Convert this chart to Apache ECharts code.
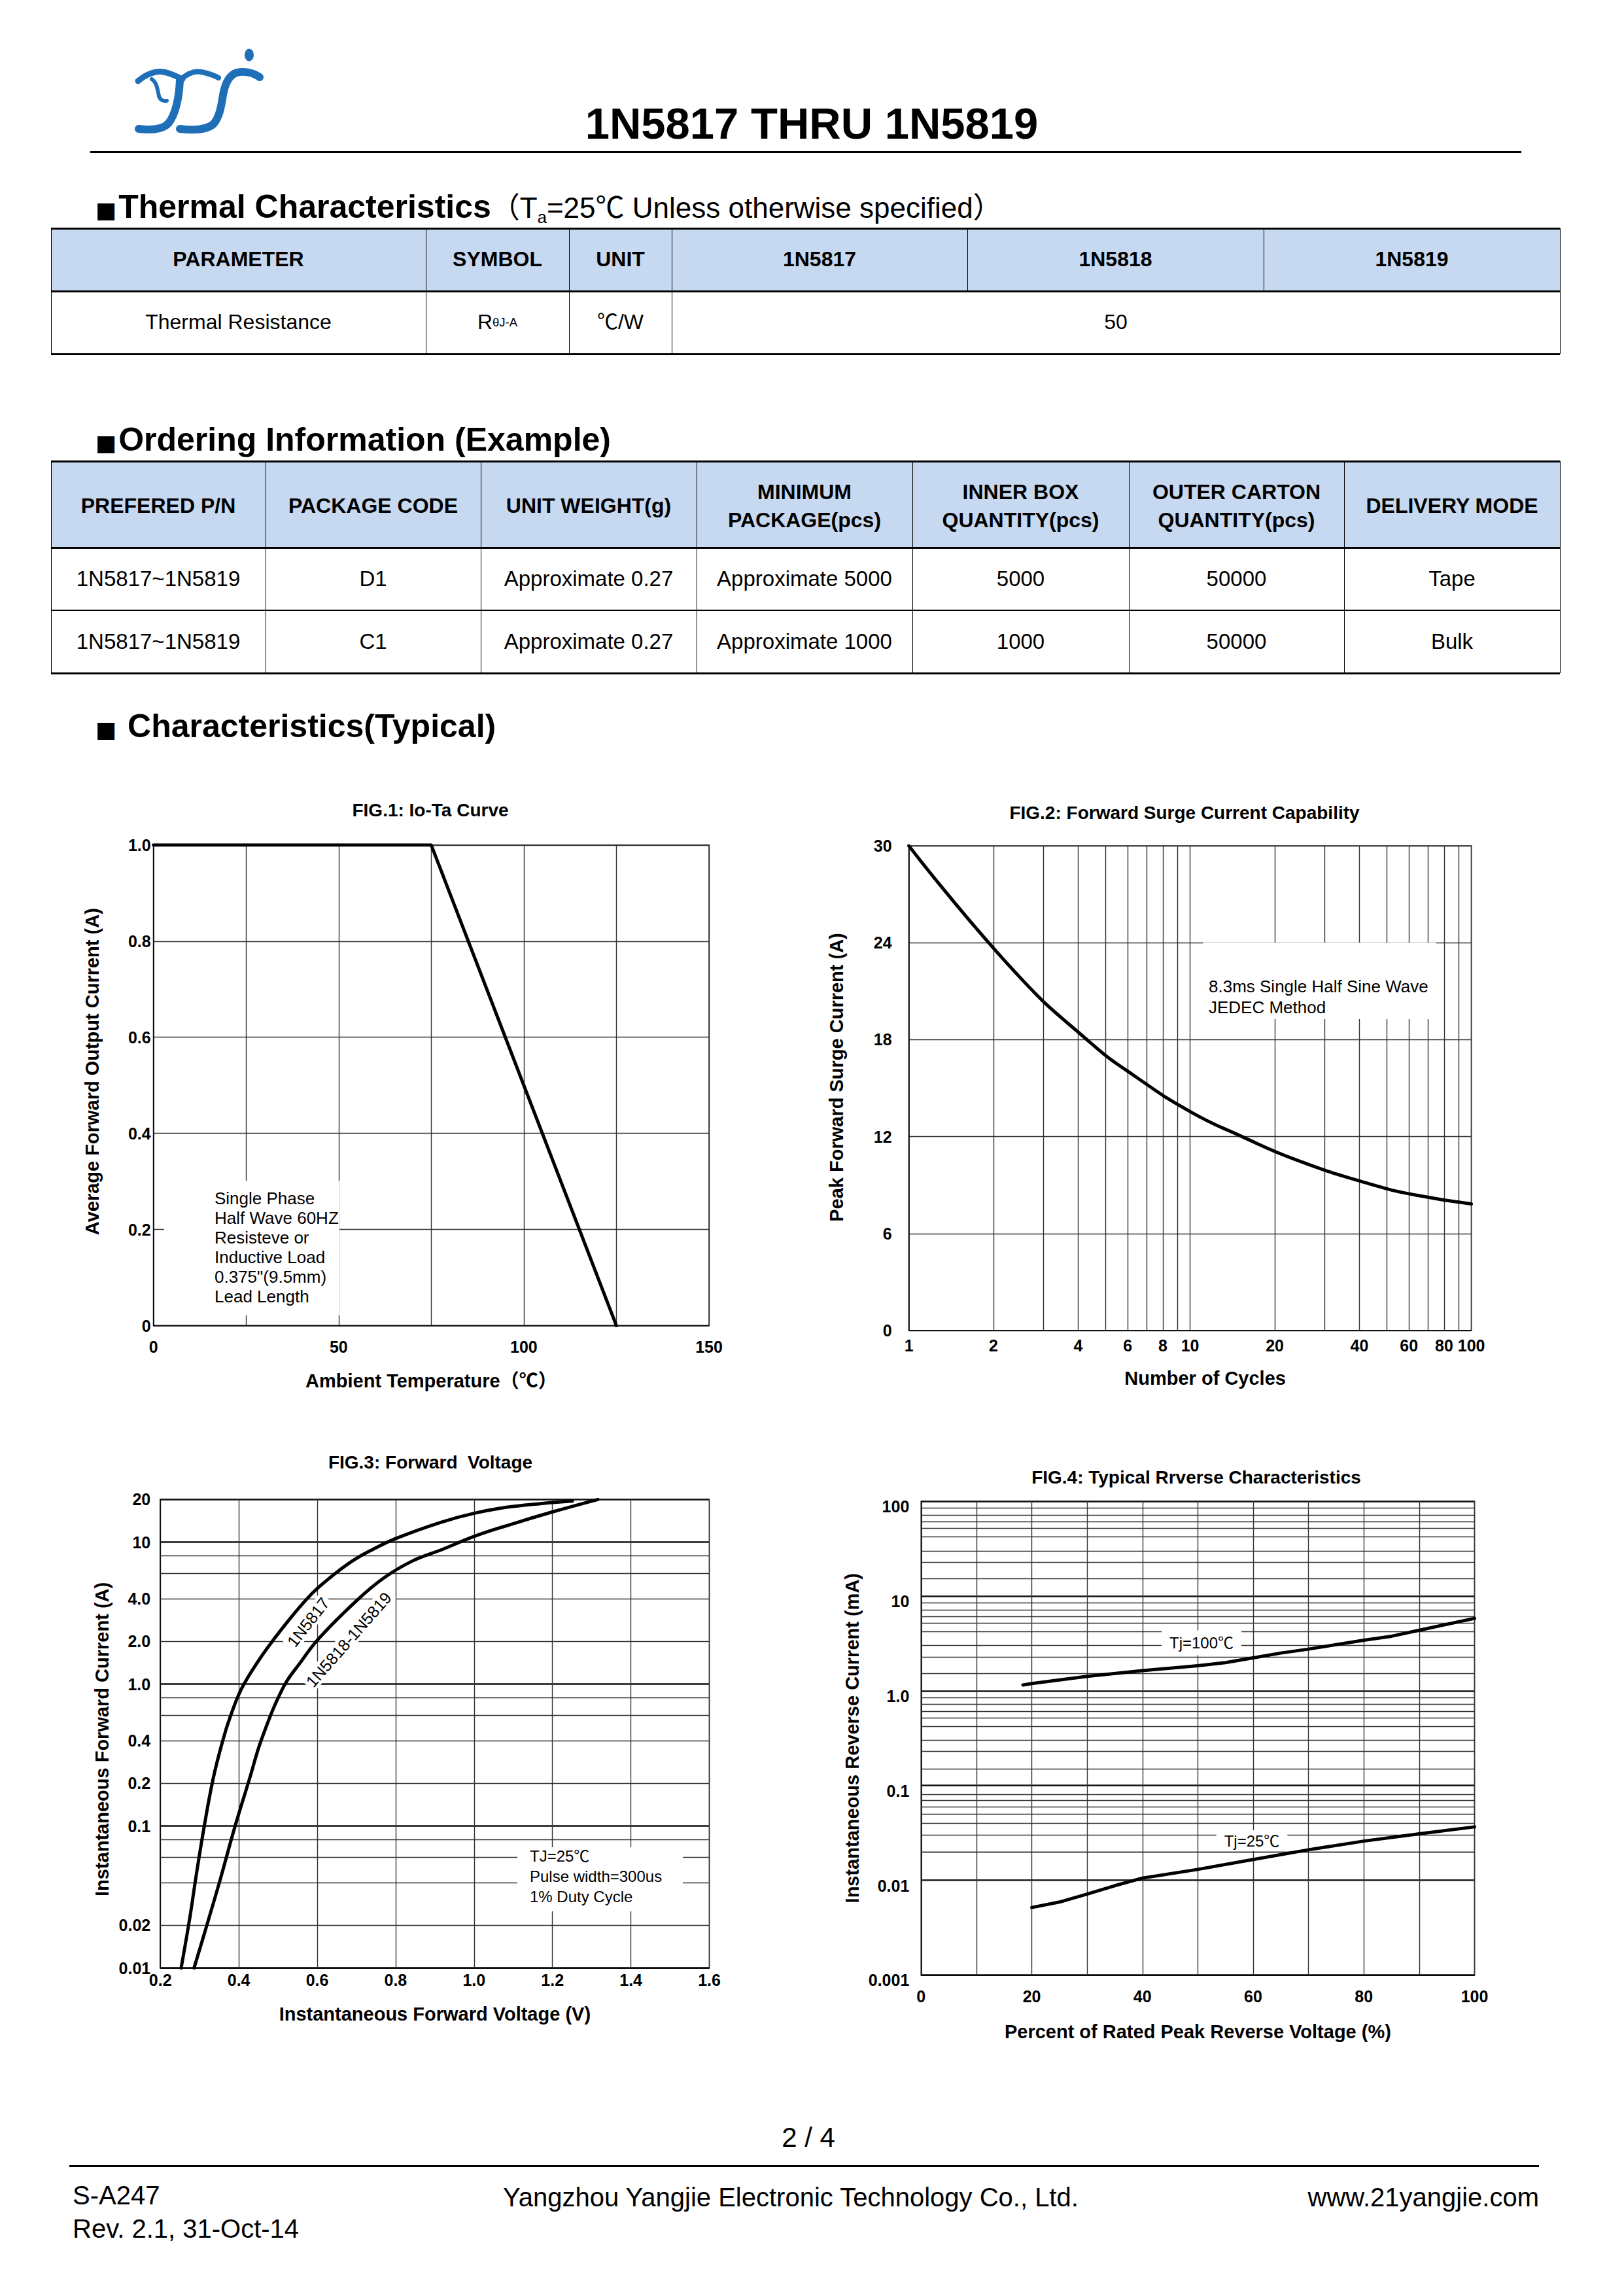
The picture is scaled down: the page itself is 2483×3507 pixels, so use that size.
<!DOCTYPE html>
<html>
<head>
<meta charset="utf-8">
<title>1N5817 THRU 1N5819</title>
<script src="https://cdn.jsdelivr.net/npm/echarts@6.0.0/dist/echarts.min.js"></script>
<style>
html,body{margin:0;padding:0;background:#fff;}
#page{position:relative;width:2483px;height:3507px;overflow:hidden;background:#fff;color:#000;font-family:"Liberation Sans",Arial,"Noto Sans CJK SC",sans-serif;}
#chart{position:absolute;left:0;top:0;width:2483px;height:3507px;}
.t{position:absolute;white-space:nowrap;}
.cell{position:absolute;display:flex;align-items:center;justify-content:center;text-align:center;line-height:1.35;white-space:nowrap;}
.ln{position:absolute;background:#000;}
.bg{position:absolute;}
sub{font-size:0.58em;vertical-align:-0.32em;line-height:0;}
.sq{font-family:"DejaVu Sans",sans-serif;font-size:34px;margin-right:3px;}
</style>
</head>
<body>
<div id="page">
<div id="chart"></div>
<svg id="logo" style="position:absolute;left:0;top:0" width="500" height="240" viewBox="0 0 500 240">
 <g fill="none" stroke="#1E6FB8" stroke-linecap="round">
  <path d="M211,124 C225,112 240,108 250,110 C262,112 270,117 279,121" stroke-width="9"/>
  <path d="M232,121 C240,126 241,138 243,147 C245,153 250,155 255,154" stroke-width="6"/>
  <path d="M275,122 C274,150 268,175 258,188 C250,197 236,200 212,197" stroke-width="12"/>
  <path d="M277,121 C287,112 298,108 308,110 C318,112 327,115 334,119" stroke-width="8"/>
  <path d="M397,118 C388,112 375,108 362,111 C350,115 344,128 341,145 C338,165 335,180 326,190 C316,198 300,200 275,197" stroke-width="12"/>
 </g>
 <ellipse cx="381" cy="84" rx="7" ry="9.5" fill="#1E6FB8"/>
</svg>
</div>
<script>
const FONT = '"Liberation Sans", Arial, "Noto Sans CJK SC", sans-serif';

// ---------------- DATA ----------------
// FIG.1 Io-Ta curve
const fig1Temperature = [0, 75, 125];
const fig1Current = [1.0, 1.0, 0];
const fig1XTickValues = [0, 50, 100, 150];
const fig1XTickText = ['0', '50', '100', '150'];
const fig1YTickValues = [0, 0.2, 0.4, 0.6, 0.8, 1.0];
const fig1YTickText = ['0', '0.2', '0.4', '0.6', '0.8', '1.0'];

// FIG.2 Forward surge current
const fig2Cycles = [1, 2.38, 4.43, 6.35, 10, 15.3, 23.9, 44.3, 63.5, 100];
const fig2Surge = [30, 22.2, 17.8, 15.75, 13.55, 12.0, 10.55, 9.03, 8.38, 7.83];
const fig2GridCycles = [2, 3, 4, 5, 6, 7, 8, 9, 20, 30, 40, 50, 60, 70, 80, 90];
const fig2TickValues = [1, 2, 4, 6, 8, 10, 20, 40, 60, 80, 100];
const fig2TickText = ['1', '2', '4', '6', '8', '10', '20', '40', '60', '80', '100'];
const fig2YTickValues = [0, 6, 12, 18, 24, 30];
const fig2YTickText = ['0', '6', '12', '18', '24', '30'];

// FIG.3 Forward voltage
const fig3Voltage1817 = [0.253, 0.275, 0.290, 0.311, 0.335, 0.360, 0.378, 0.407, 0.453, 0.490, 0.535, 0.571, 0.601, 0.644, 0.689, 0.734, 0.800, 0.915, 1.001, 1.096, 1.251];
const fig3Current1817 = [0.01, 0.0225, 0.0423, 0.0964, 0.218, 0.408, 0.586, 0.927, 1.50, 2.08, 2.99, 3.91, 4.74, 5.96, 7.35, 8.67, 10.6, 13.8, 16.0, 17.8, 19.5];
const fig3Voltage1818 = [0.286, 0.324, 0.353, 0.389, 0.428, 0.458, 0.514, 0.558, 0.603, 0.702, 0.770, 0.842, 0.919, 1.001, 1.096, 1.202, 1.316];
const fig3Current1818 = [0.01, 0.0225, 0.0423, 0.0964, 0.218, 0.408, 0.955, 1.43, 2.08, 3.91, 5.6, 7.35, 8.89, 11.0, 13.4, 16.4, 20];
const fig3GridCurrent = [0.02, 0.04, 0.06, 0.08, 0.2, 0.4, 0.6, 0.8, 2, 4, 6, 8];
const fig3XTickValues = [0.2, 0.4, 0.6, 0.8, 1.0, 1.2, 1.4, 1.6];
const fig3XTickText = ['0.2', '0.4', '0.6', '0.8', '1.0', '1.2', '1.4', '1.6'];
const fig3YTickValues = [0.01, 0.02, 0.1, 0.2, 0.4, 1, 2, 4, 10, 20];
const fig3YTickText = ['0.01', '0.02', '0.1', '0.2', '0.4', '1.0', '2.0', '4.0', '10', '20'];

// FIG.4 Reverse characteristics
const fig4Percent100 = [18.4, 20, 30, 40, 50, 55, 60, 65, 70, 80, 85, 90, 100];
const fig4Current100 = [1.15, 1.19, 1.42, 1.63, 1.84, 1.98, 2.22, 2.5, 2.75, 3.41, 3.76, 4.35, 5.8];
const fig4Percent25 = [20, 25, 30, 35, 40, 50, 60, 70, 80, 90, 100];
const fig4Current25 = [0.00516, 0.00589, 0.00716, 0.00877, 0.01055, 0.01303, 0.01655, 0.0210, 0.0259, 0.0309, 0.0366];
const fig4GridSteps = [1.52, 2.27, 3.0, 4.22, 5.16, 6.08, 7.16, 8.43];
const fig4Decades = [0.001, 0.01, 0.1, 1, 10];
const fig4XTickValues = [0, 20, 40, 60, 80, 100];
const fig4XTickText = ['0', '20', '40', '60', '80', '100'];
const fig4YTickValues = [0.001, 0.01, 0.1, 1, 10, 100];
const fig4YTickText = ['0.001', '0.01', '0.1', '1.0', '10', '100'];

// ---------------- HTML PARTS (header, tables, footer) ----------------
const page = document.getElementById('page');
function addText(html, x, baseline, fs, opts) {
  opts = opts || {};
  const d = document.createElement('div');
  d.className = 't';
  d.innerHTML = html;
  const lh = Math.round(fs * 1.2);
  d.style.fontSize = fs + 'px';
  d.style.lineHeight = lh + 'px';
  d.style.fontWeight = opts.bold ? 'bold' : 'normal';
  d.style.top = (baseline - lh / 2 - 0.3465 * fs) + 'px';
  d.style.left = x + 'px';
  if (opts.align === 'center') d.style.transform = 'translateX(-50%)';
  if (opts.align === 'right') d.style.transform = 'translateX(-100%)';
  page.appendChild(d);
}
function addLine(x, y, w, h) {
  const d = document.createElement('div');
  d.className = 'ln';
  d.style.left = x + 'px'; d.style.top = y + 'px';
  d.style.width = w + 'px'; d.style.height = h + 'px';
  page.appendChild(d);
}
function addRect(x, y, w, h, color) {
  const d = document.createElement('div');
  d.className = 'bg';
  d.style.left = x + 'px'; d.style.top = y + 'px';
  d.style.width = w + 'px'; d.style.height = h + 'px';
  d.style.background = color;
  page.appendChild(d);
}
function addCell(html, x0, x1, y0, y1, fs, bold) {
  const d = document.createElement('div');
  d.className = 'cell';
  d.innerHTML = html;
  d.style.left = x0 + 'px'; d.style.top = y0 + 'px';
  d.style.width = (x1 - x0) + 'px'; d.style.height = (y1 - y0) + 'px';
  d.style.fontSize = fs + 'px';
  d.style.fontWeight = bold ? 'bold' : 'normal';
  page.appendChild(d);
}

// Header
addText('1N5817 THRU 1N5819', 1241, 212, 67, {bold: true, align: 'center'});
addLine(138, 231, 2188, 3);

// Thermal characteristics
addText('<span class="sq">■</span>Thermal Characteristics<span style="font-weight:normal;font-size:44px">（T<sub>a</sub>=25℃ Unless otherwise specified）</span>', 146, 333, 50, {bold: true});
const thermalHeaders = ['PARAMETER', 'SYMBOL', 'UNIT', '1N5817', '1N5818', '1N5819'];
const thX = [78, 651, 870, 1027, 1479, 1932, 2385];
addRect(78, 349, 2307, 96, '#C6D9F1');
thermalHeaders.forEach((h, i) => addCell(h, thX[i], thX[i + 1], 349, 445, 32, true));
addCell('Thermal Resistance', 78, 651, 445, 541, 32, false);
addCell('R<sub>θJ-A</sub>', 651, 870, 445, 541, 32, false);
addCell('℃/W', 870, 1027, 445, 541, 32, false);
addCell('50', 1027, 2385, 445, 541, 32, false);
[349, 445, 541].forEach(y => addLine(78, y - 1.5, 2307, 3));
thX.forEach((x, i) => addLine(x - 0.5, 349, 1.2, (i === 4 || i === 5) ? 96 : 192));

// Ordering information
addText('<span class="sq">■</span>Ordering Information (Example)', 146, 689, 50, {bold: true});
const orderHeaders = ['PREFERED P/N', 'PACKAGE CODE', 'UNIT WEIGHT(g)', 'MINIMUM<br>PACKAGE(pcs)', 'INNER BOX<br>QUANTITY(pcs)', 'OUTER CARTON<br>QUANTITY(pcs)', 'DELIVERY MODE'];
const orderRow1 = ['1N5817~1N5819', 'D1', 'Approximate 0.27', 'Approximate 5000', '5000', '50000', 'Tape'];
const orderRow2 = ['1N5817~1N5819', 'C1', 'Approximate 0.27', 'Approximate 1000', '1000', '50000', 'Bulk'];
const orX = [78, 406, 735, 1065, 1395, 1726, 2055, 2385];
addRect(78, 705, 2307, 132, '#C6D9F1');
orderHeaders.forEach((h, i) => addCell(h, orX[i], orX[i + 1], 707, 841, 32, true));
orderRow1.forEach((h, i) => addCell(h, orX[i], orX[i + 1], 837, 933, 33, false));
orderRow2.forEach((h, i) => addCell(h, orX[i], orX[i + 1], 933, 1029, 33, false));
addLine(78, 703.5, 2307, 3);
addLine(78, 835.5, 2307, 3);
addLine(78, 932, 2307, 2);
addLine(78, 1027.5, 2307, 3);
orX.forEach(x => addLine(x - 0.5, 705, 1.2, 324));

// Characteristics heading
addText('<span class="sq">■</span> Characteristics(Typical)', 146, 1127, 50, {bold: true});

// Footer
addText('2 / 4', 1236, 3283, 42, {align: 'center'});
addLine(106, 3310, 2247, 3);
addText('S-A247', 111, 3370, 40);
addText('Rev. 2.1, 31-Oct-14', 111, 3421, 40);
addText('Yangzhou Yangjie Electronic Technology Co., Ltd.', 769, 3373, 40);
addText('www.21yangjie.com', 2353, 3373, 40, {align: 'right'});

// ---------------- CHARTS ----------------
function tickText(values, texts, v, log) {
  for (let i = 0; i < values.length; i++) {
    const hit = log ? Math.abs(Math.log10(values[i]) - Math.log10(v)) < 1e-6 : Math.abs(values[i] - v) < 1e-6;
    if (hit) return texts[i];
  }
  return '';
}
const labelBase = {color: '#000', fontFamily: FONT, fontWeight: 'bold', fontSize: 25};
const nameBase = {color: '#000', fontFamily: FONT, fontWeight: 'bold', fontSize: 29};
const axisLineStyle = {show: true, lineStyle: {color: '#000', width: 1.5}};
const split = {show: true, lineStyle: {color: '#333', width: 1.4, type: 'solid'}};
const splitMajor = {show: true, lineStyle: {color: '#111', width: 2.6, type: 'solid'}};
const minorLine = {type: 'solid', color: '#333', width: 1.4};

function gridLines(axisKey, values, labelValues, labelTexts, dist) {
  return {
    silent: true, symbol: ['none', 'none'], animation: false,
    lineStyle: minorLine, emphasis: {disabled: true},
    label: {show: false},
    data: values.map(v => {
      const txt = labelValues ? tickText(labelValues, labelTexts, v, true) : '';
      const item = {lineStyle: minorLine};
      item[axisKey] = v;
      item.label = txt ? Object.assign({show: true, position: 'start', formatter: txt, distance: dist}, labelBase) : {show: false};
      return item;
    })
  };
}
const fig4GridValues = [];
fig4Decades.forEach(d => fig4GridSteps.forEach(s => fig4GridValues.push(d * s)));

const pairs = (xs, ys) => xs.map((x, i) => [x, ys[i]]);
const curveStyle = {color: '#000', width: 5, cap: 'round', join: 'round'};

const gridBase = {show: true, borderColor: '#222', borderWidth: 1.5, backgroundColor: 'transparent', containLabel: false};
const option = {
  animation: false,
  backgroundColor: 'transparent',
  grid: [
    Object.assign({left: 234.7, top: 1291.8, width: 849.3, height: 734.8}, gridBase),
    Object.assign({left: 1389.6, top: 1293, width: 860, height: 741}, gridBase),
    Object.assign({left: 245.2, top: 2292.3, width: 839.3, height: 716.2}, gridBase),
    Object.assign({left: 1408.3, top: 2295, width: 846.2, height: 724.4}, gridBase)
  ],
  xAxis: [
    {gridIndex: 0, type: 'value', min: 0, max: 150, interval: 25,
     axisLine: axisLineStyle, axisTick: {show: false}, splitLine: split,
     axisLabel: Object.assign({margin: 20, formatter: v => tickText(fig1XTickValues, fig1XTickText, v, false)}, labelBase),
     name: 'Ambient Temperature（℃）', nameLocation: 'middle', nameGap: 70, nameTextStyle: nameBase},
    {gridIndex: 1, type: 'log', logBase: 10, min: 1, max: 100,
     axisLine: axisLineStyle, axisTick: {show: false}, splitLine: split, minorTick: {show: false}, minorSplitLine: {show: false},
     axisLabel: Object.assign({margin: 10, formatter: v => tickText(fig2TickValues, fig2TickText, v, true)}, labelBase),
     name: 'Number of Cycles', nameLocation: 'middle', nameGap: 58, nameTextStyle: Object.assign({padding: [0, 0, 0, 46]}, nameBase)},
    {gridIndex: 2, type: 'value', min: 0.2, max: 1.6, interval: 0.2,
     axisLine: axisLineStyle, axisTick: {show: false}, splitLine: split,
     axisLabel: Object.assign({margin: 6, formatter: v => tickText(fig3XTickValues, fig3XTickText, v, false)}, labelBase),
     name: 'Instantaneous Forward Voltage (V)', nameLocation: 'middle', nameGap: 56, nameTextStyle: nameBase},
    {gridIndex: 3, type: 'value', min: 0, max: 100, interval: 10,
     axisLine: axisLineStyle, axisTick: {show: false}, splitLine: split,
     axisLabel: Object.assign({margin: 20, formatter: v => tickText(fig4XTickValues, fig4XTickText, v, false)}, labelBase),
     name: 'Percent of Rated Peak Reverse Voltage (%)', nameLocation: 'middle', nameGap: 72, nameTextStyle: nameBase}
  ],
  yAxis: [
    {gridIndex: 0, type: 'value', min: 0, max: 1, interval: 0.2,
     axisLine: axisLineStyle, axisTick: {show: false}, splitLine: split,
     axisLabel: Object.assign({margin: 4, formatter: v => tickText(fig1YTickValues, fig1YTickText, v, false)}, labelBase),
     name: 'Average Forward Output Current (A)', nameLocation: 'middle', nameGap: 79, nameTextStyle: Object.assign({padding: [0, 0, 0, 42]}, nameBase)},
    {gridIndex: 1, type: 'value', min: 0, max: 30, interval: 6,
     axisLine: axisLineStyle, axisTick: {show: false}, splitLine: split,
     axisLabel: Object.assign({margin: 26, formatter: v => tickText(fig2YTickValues, fig2YTickText, v, false)}, labelBase),
     name: 'Peak Forward Surge Current (A)', nameLocation: 'middle', nameGap: 96, nameTextStyle: Object.assign({padding: [0, 0, 0, 33]}, nameBase)},
    {gridIndex: 2, type: 'log', logBase: 10, min: 0.01, max: 20,
     axisLine: axisLineStyle, axisTick: {show: false}, splitLine: splitMajor, minorTick: {show: false}, minorSplitLine: {show: false},
     axisLabel: Object.assign({margin: 15, formatter: v => tickText(fig3YTickValues, fig3YTickText, v, true)}, labelBase),
     name: 'Instantaneous Forward Current (A)', nameLocation: 'middle', nameGap: 75, nameTextStyle: Object.assign({padding: [0, 17, 0, 0]}, nameBase)},
    {gridIndex: 3, type: 'log', logBase: 10, min: 0.001, max: 100,
     axisLine: axisLineStyle, axisTick: {show: false}, splitLine: splitMajor, minorTick: {show: false}, minorSplitLine: {show: false},
     axisLabel: Object.assign({margin: 18, formatter: v => tickText(fig4YTickValues, fig4YTickText, v, true)}, labelBase, {verticalAlign: 'top', lineHeight: 16}),
     name: 'Instantaneous Reverse Current (mA)', nameLocation: 'middle', nameGap: 91, nameTextStyle: nameBase}
  ],
  series: [
    {name: 'Io-Ta', type: 'line', xAxisIndex: 0, yAxisIndex: 0, z: 20, symbol: 'none', silent: true,
     lineStyle: curveStyle, data: pairs(fig1Temperature, fig1Current)},
    {name: 'Surge', type: 'line', xAxisIndex: 1, yAxisIndex: 1, z: 20, symbol: 'none', silent: true, smooth: 0.5,
     lineStyle: curveStyle, data: pairs(fig2Cycles, fig2Surge)},
    {name: 'fig2grid', type: 'line', xAxisIndex: 1, yAxisIndex: 1, z: 1, symbol: 'none', silent: true, data: [],
     markLine: gridLines('xAxis', fig2GridCycles, fig2TickValues, fig2TickText, 10)},
    {name: '1N5817', type: 'line', xAxisIndex: 2, yAxisIndex: 2, z: 20, symbol: 'none', silent: true, smooth: 0.4,
     lineStyle: curveStyle, data: pairs(fig3Voltage1817, fig3Current1817)},
    {name: '1N5818-1N5819', type: 'line', xAxisIndex: 2, yAxisIndex: 2, z: 20, symbol: 'none', silent: true, smooth: 0.4,
     lineStyle: curveStyle, data: pairs(fig3Voltage1818, fig3Current1818)},
    {name: 'fig3grid', type: 'line', xAxisIndex: 2, yAxisIndex: 2, z: 1, symbol: 'none', silent: true, data: [],
     markLine: gridLines('yAxis', fig3GridCurrent, fig3YTickValues, fig3YTickText, 15)},
    {name: 'Tj=100℃', type: 'line', xAxisIndex: 3, yAxisIndex: 3, z: 20, symbol: 'none', silent: true,
     lineStyle: curveStyle, data: pairs(fig4Percent100, fig4Current100)},
    {name: 'Tj=25℃', type: 'line', xAxisIndex: 3, yAxisIndex: 3, z: 20, symbol: 'none', silent: true,
     lineStyle: curveStyle, data: pairs(fig4Percent25, fig4Current25)},
    {name: 'fig4grid', type: 'line', xAxisIndex: 3, yAxisIndex: 3, z: 1, symbol: 'none', silent: true, data: [],
     markLine: gridLines('yAxis', fig4GridValues, null, null, 0)}
  ],
  graphic: [
    {type: 'text', x: 658, y: 1238, z: 12, silent: true, style: {text: 'FIG.1: Io-Ta Curve', textAlign: 'center', textVerticalAlign: 'middle', fontFamily: FONT, fontWeight: 'bold', fontSize: 28, fill: '#000'}},
    {type: 'text', x: 1811, y: 1242, z: 12, silent: true, style: {text: 'FIG.2: Forward Surge Current Capability', textAlign: 'center', textVerticalAlign: 'middle', fontFamily: FONT, fontWeight: 'bold', fontSize: 28, fill: '#000'}},
    {type: 'text', x: 658, y: 2235.5, z: 12, silent: true, style: {text: 'FIG.3: Forward  Voltage', textAlign: 'center', textVerticalAlign: 'middle', fontFamily: FONT, fontWeight: 'bold', fontSize: 28, fill: '#000'}},
    {type: 'text', x: 1829, y: 2258, z: 12, silent: true, style: {text: 'FIG.4: Typical Rrverse Characteristics', textAlign: 'center', textVerticalAlign: 'middle', fontFamily: FONT, fontWeight: 'bold', fontSize: 28, fill: '#000'}},

    {type: 'rect', z: 10, silent: true, shape: {x: 251, y: 1805, width: 268, height: 206}, style: {fill: '#fff'}},
    {type: 'text', x: 328, y: 1817, z: 11, silent: true, style: {text: 'Single Phase\nHalf Wave 60HZ\nResisteve or\nInductive Load\n0.375"(9.5mm)\nLead Length', textVerticalAlign: 'top', fontFamily: FONT, fontSize: 26, lineHeight: 30, fill: '#000'}},

    {type: 'rect', z: 10, silent: true, shape: {x: 1839, y: 1441, width: 357, height: 117}, style: {fill: '#fff'}},
    {type: 'text', x: 1848, y: 1492, z: 11, silent: true, style: {text: '8.3ms Single Half Sine Wave\nJEDEC Method', textVerticalAlign: 'top', fontFamily: FONT, fontSize: 26, lineHeight: 32, fill: '#000'}},

    {type: 'rect', z: 10, silent: true, shape: {x: 791, y: 2824, width: 253, height: 98}, style: {fill: '#fff'}},
    {type: 'text', x: 810, y: 2821.5, z: 11, silent: true, style: {text: 'TJ=25℃\nPulse width=300us\n1% Duty Cycle', textVerticalAlign: 'top', fontFamily: FONT, fontSize: 24, lineHeight: 31, fill: '#000'}},

    {type: 'text', x: 471, y: 2480, rotation: 52 * Math.PI / 180, z: 11, silent: true, style: {text: '1N5817', textAlign: 'center', textVerticalAlign: 'middle', fontFamily: FONT, fontSize: 25, fill: '#000', backgroundColor: '#fff', padding: [1, 3]}},
    {type: 'text', x: 533, y: 2506.5, rotation: 48.7 * Math.PI / 180, z: 11, silent: true, style: {text: '1N5818-1N5819', textAlign: 'center', textVerticalAlign: 'middle', fontFamily: FONT, fontSize: 25, fill: '#000', backgroundColor: '#fff', padding: [1, 3]}},

    {type: 'text', x: 1837, y: 2511.5, z: 11, silent: true, style: {text: 'Tj=100℃', textAlign: 'center', textVerticalAlign: 'middle', fontFamily: FONT, fontSize: 24, fill: '#000', backgroundColor: '#fff', padding: [7, 12]}},
    {type: 'text', x: 1914, y: 2814, z: 11, silent: true, style: {text: 'Tj=25℃', textAlign: 'center', textVerticalAlign: 'middle', fontFamily: FONT, fontSize: 24, fill: '#000', backgroundColor: '#fff', padding: [4, 12]}}
  ]
};
const chart = echarts.init(document.getElementById('chart'), null, {renderer: 'svg', width: 2483, height: 3507});
chart.setOption(option);
</script>
</body>
</html>
